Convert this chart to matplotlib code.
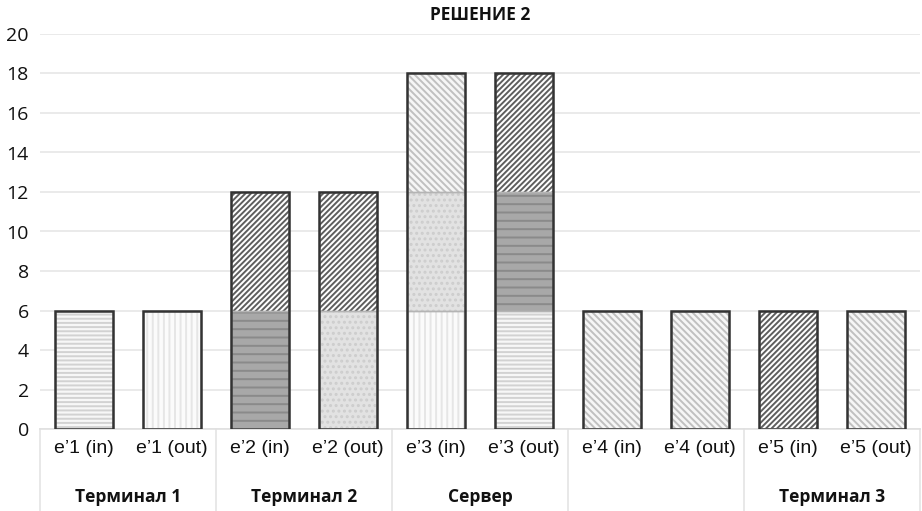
import matplotlib
matplotlib.use("Agg")
import matplotlib.pyplot as plt
import numpy as np

# ---- data ----
categories = ["e’1 (in)", "e’1 (out)", "e’2 (in)", "e’2 (out)", "e’3 (in)",
              "e’3 (out)", "e’4 (in)", "e’4 (out)", "e’5 (in)", "e’5 (out)"]
seg_bottom = [6, 6, 6, 6, 6, 6, 6, 6, 6, 6]
seg_middle = [0, 0, 6, 6, 6, 6, 0, 0, 0, 0]
seg_top    = [0, 0, 0, 0, 6, 6, 0, 0, 0, 0]
groups = ["Терминал 1", "Терминал 2", "Сервер", "", "Терминал 3"]
group_sizes = [2, 2, 2, 2, 2]
title = "РЕШЕНИЕ 2"
yticks = list(range(0, 21, 2))

# ---- styles (pattern per segment) ----
# pattern key -> (facecolor, hatch, hatchcolor)
patterns = {
    "hlight": ("#f7f7f7", "----", "#d2d2d2"),
    "vlight": ("#fbfbfb", "|||", "#e6e6e6"),
    "hdark":  ("#a8a8a8", "--", "#8a8a8a"),
    "ddark":  ("#ffffff", "//////", "#5e5e5e"),
    "dots":   ("#e2e2e2", "...", "#cdcdcd"),
    "blight": ("#f6f6f6", "\\\\\\\\\\", "#c0c0c0"),
}
style_bottom = ["hlight", "vlight", "hdark", "dots", "vlight", "hlight",
                "blight", "blight", "ddark", "blight"]
style_middle = [None, None, "ddark", "ddark", "dots", "hdark",
                None, None, None, None]
style_top = [None, None, None, None, "blight", "ddark",
             None, None, None, None]

plt.rcParams["hatch.linewidth"] = 1.4

W, H = 922, 511
fig = plt.figure(figsize=(W / 100, H / 100), dpi=100)
ax = fig.add_axes([40 / W, 82 / H, 880 / W, 395 / H])

x = np.arange(len(categories))
width = 0.67
segs = [(seg_bottom, style_bottom), (seg_middle, style_middle), (seg_top, style_top)]
base = np.zeros(len(categories))
for vals, styles in segs:
    for i, (v, s) in enumerate(zip(vals, styles)):
        if v <= 0 or s is None:
            continue
        fc, hatch, hc = patterns[s]
        ax.bar(x[i], v, width, bottom=base[i], color=fc, edgecolor=hc,
               hatch=hatch, linewidth=0, zorder=2)
        ax.bar(x[i], v, width, bottom=base[i], fill=False,
               edgecolor="#b4b4b4", linewidth=1.0, zorder=3)
    base = base + np.array(vals)

# outlines
ax.bar(x, base, width, fill=False, edgecolor="#333333", linewidth=1.8, zorder=4)

ax.set_xlim(-0.5, len(categories) - 0.5)
ax.set_ylim(0, 20)
ax.set_yticks(yticks)
ax.set_yticklabels([str(t) for t in yticks], fontsize=14, family="Open Sans",
                   color="#111111")
ax.yaxis.grid(True, color="#e6e6e6", linewidth=1.2, zorder=0)
ax.set_axisbelow(True)
for sp in ["top", "right", "left"]:
    ax.spines[sp].set_visible(False)
ax.spines["bottom"].set_color("#e0e0e0")
ax.spines["bottom"].set_linewidth(1.2)
ax.tick_params(axis="y", length=0, pad=8)
ax.tick_params(axis="x", length=0, pad=8)
ax.set_xticks(x)
ax.set_xticklabels(categories, fontsize=14, family="Liberation Sans",
                   color="#111111")

ax.set_title(title, fontsize=12.5, fontweight="bold", family="Open Sans",
             pad=10, color="#111111")

# group labels and separators
trans = ax.get_xaxis_transform()
start = -0.5
bounds = [start]
for gname, gs in zip(groups, group_sizes):
    center = start + gs / 2
    if gname:
        ax.text(center, -0.172, gname, transform=trans, ha="center",
                va="center", fontsize=12.5, fontweight="bold",
                family="Open Sans", color="#111111")
    start += gs
    bounds.append(start)
for b in bounds:
    ax.plot([b, b], [0, -0.21], transform=trans, color="#e4e4e4",
            linewidth=1.2, clip_on=False, zorder=1)

fig.savefig("out.png", dpi=100)
